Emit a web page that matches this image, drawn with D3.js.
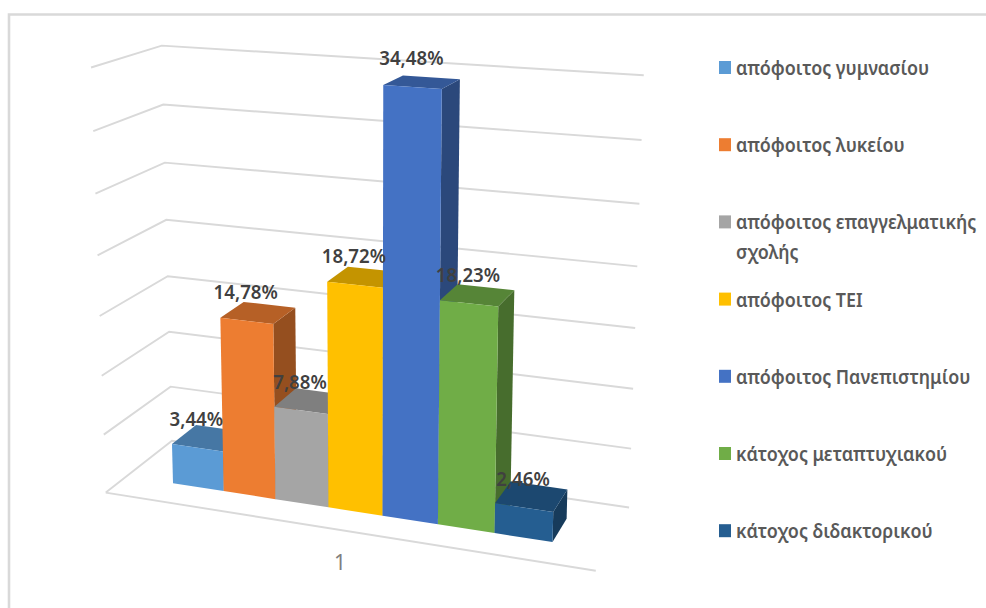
<!DOCTYPE html>
<html lang="el"><head><meta charset="utf-8">
<script src="https://cdn.jsdelivr.net/npm/d3@7"></script>
<style>
html,body{margin:0;background:#fff}
svg{display:block}
text{font-family:"Noto Sans",sans-serif}
</style></head>
<body><svg id="chart" width="986" height="608"></svg>
<script>
// Education level shares, one clustered 3D column per level
const categories = ["απόφοιτος γυμνασίου","απόφοιτος λυκείου","απόφοιτος επαγγελματικής σχολής","απόφοιτος ΤΕΙ","απόφοιτος Πανεπιστημίου","κάτοχος μεταπτυχιακού","κάτοχος διδακτορικού"];
const values = [3.44,14.78,7.88,18.72,34.48,18.23,2.46];
const valueLabels = ["3,44%","14,78%","7,88%","18,72%","34,48%","18,23%","2,46%"];
const seriesColors = ["#5b9bd5","#ed7d31","#a5a5a5","#ffc000","#4472c4","#70ad47","#255e91"];
const legendLines = [["απόφοιτος γυμνασίου"],["απόφοιτος λυκείου"],["απόφοιτος επαγγελματικής","σχολής"],["απόφοιτος ΤΕΙ"],["απόφοιτος Πανεπιστημίου"],["κάτοχος μεταπτυχιακού"],["κάτοχος διδακτορικού"]];
const gridLevels = [0,5,10,15,20,25,30,35];
const categoryLabel = "1";

// Perspective camera: homogeneous map from (column, value, depth) to the page
const cam = [48.2796,-0.550375,29.6854,173.005, 2.58503,-12.0808,-6.37144,483.237, -0.0107453,-0.0014864,0.0293786];
const project = (X,Y,Z) => {
  const w = 1 + cam[8]*X + cam[9]*Y + cam[10]*Z;
  return [(cam[0]*X + cam[1]*Y + cam[2]*Z + cam[3])/w, (cam[4]*X + cam[5]*Y + cam[6]*Z + cam[7])/w];
};

const xBand = d3.scaleBand().domain(d3.range(categories.length)).range([0,categories.length]);
const yVal = d3.scaleLinear().domain([0,35]).range([0,35]);
const wall = {left:-0.93, right:7.91, front:-0.80, back:1.85};

const svg = d3.select("#chart");
const line = d3.line();

// Outer frame, open towards the right and bottom edges
svg.append("path").attr("d", line([[9,608],[9,14.5],[986,14.5]]))
  .attr("fill","none").attr("stroke","#d9d9d9").attr("stroke-width",2.6);

// Gridlines across the side and back walls, plus the floor's front edge
const grid = svg.append("g").attr("fill","none").attr("stroke","#d9d9d9").attr("stroke-width",1.9);
grid.selectAll("path.level").data(gridLevels).join("path").attr("class","level")
  .attr("d", v => line([
    project(wall.left,yVal(v),wall.front),
    project(wall.left,yVal(v),wall.back),
    project(wall.right,yVal(v),wall.back)]));
grid.append("path").attr("d", line([project(wall.left,0,wall.front),project(wall.right,0,wall.front)]));

// Columns, painted left to right so that each one covers its neighbour's side face
const shade = (c,k) => { const r = d3.rgb(c); return d3.rgb(r.r*k,r.g*k,r.b*k).formatHex(); };
const bars = svg.append("g").selectAll("g").data(values).join("g");
bars.each(function(v,i){
  const g = d3.select(this), x0 = xBand(i), x1 = x0 + xBand.bandwidth(), y = yVal(v), col = seriesColors[i];
  const face = (pts,fill) => g.append("path").attr("d", line(pts)+"Z").attr("fill",fill);
  face([project(x1,0,0),project(x1,y,0),project(x1,y,1),project(x1,0,1)], shade(col,0.63));
  face([project(x0,y,0),project(x1,y,0),project(x1,y,1),project(x0,y,1)], shade(col,0.77));
  face([project(x0,0,0),project(x1,0,0),project(x1,y,0),project(x0,y,0)], col);
});

// Value labels sit above the centre of each column's front top edge
const labelWidth = 0.91, legendWidth = 0.917;
const labels = svg.append("g");
valueLabels.forEach((t,i) => {
  const [px,py] = project(xBand(i)+xBand.bandwidth()/2, yVal(values[i]), 0);
  labels.append("text").attr("transform",`translate(${px-1},${py-21.5}) scale(${labelWidth},1)`)
    .attr("text-anchor","middle").attr("font-size",20.5).attr("font-weight",600).attr("fill","#404040").text(t);
});

// Category tick label under the floor
svg.append("text").attr("x",340).attr("y",570).attr("text-anchor","middle")
  .attr("font-size",21).attr("fill","#7f7f7f").text(categoryLabel);

// Legend on the right
const legendY = d3.scaleLinear().domain([0,6]).range([67.5,530.7]);
const legend = svg.append("g").selectAll("g").data(categories).join("g")
  .attr("transform",(d,i)=>`translate(719,${legendY(i)})`);
legend.append("rect").attr("x",0).attr("y",-6.5).attr("width",12).attr("height",13).attr("fill",(d,i)=>seriesColors[i]);
legend.each(function(d,i){
  legendLines[i].forEach((t,k)=>{
    d3.select(this).append("text").attr("transform",`translate(17,${7.5+k*30}) scale(${legendWidth},1)`)
      .attr("font-size",19.5).attr("font-weight",600).attr("fill","#595959").text(t);
  });
});
</script></body></html>
